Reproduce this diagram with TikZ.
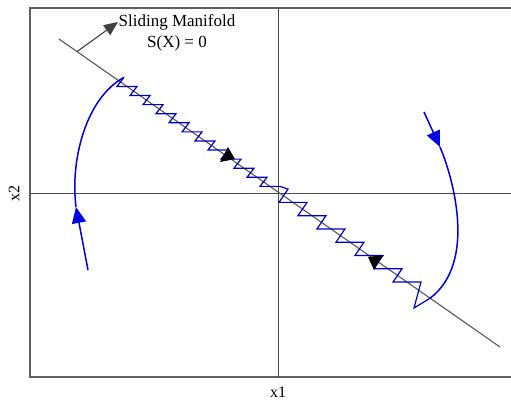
\documentclass[tikz,border=0pt]{standalone}
\usepackage{fontspec}
\setmainfont{Liberation Serif}
\usetikzlibrary{arrows.meta}

\begin{document}
\begin{tikzpicture}[x=1pt, y=-1pt,
        frame/.style = {draw=gray!75!black, line width=1.4pt},
        axis/.style  = {draw=gray!60!black, line width=0.9pt},
        manif/.style = {draw=black!65, line width=1.1pt},
        traj/.style  = {draw=blue!90!black, line width=1.5pt},
        zz/.style    = {draw=blue!80!black, line width=1.2pt},
        tarr/.style  = {-{Triangle[length=16pt, width=14pt]}},
        narr/.style  = {-{Triangle[length=14pt, width=12pt]}, draw=black!75, line width=1.1pt},
        lbl/.style   = {font=\fontsize{17}{21}\selectfont, inner sep=0pt, align=center},
    ]
        \useasboundingbox (0,0) rectangle (511,400);

        % ---- frame and axes ----
        \draw[frame] (511,8) -- (30,8) -- (30,377) -- (511,377);
        \draw[axis] (30,193) -- (511,193);
        \draw[axis] (278,8) -- (278,377);

        \node (x1) [lbl, font=\fontsize{16}{18}\selectfont] at (278,392) {x1};
        \node (x2) [lbl, font=\fontsize{16}{18}\selectfont, rotate=90] at (14,193) {x2};

        % ---- sliding manifold and its normal ----
        \coordinate (m0) at (59,39);
        \coordinate (m1) at (500,347);
        \coordinate (n0) at (77,51.6);
        \coordinate (n1) at (118,22);
        \draw[manif] (m0) -- (m1);
        \draw[narr] (n0) -- (n1);
        \node (lblS) [lbl] at (177,32.5) {Sliding Manifold\\S(X) = 0};

        % ---- left trajectory: reaching phase ----
        \coordinate (l0) at (88,270);
        \coordinate (l1) at (76,207);
        \coordinate (lc) at (124,77.4);
        \draw[traj, tarr] (l0) -- (l1);
        \draw[traj] (l1) .. controls (70,160) and (86,98) .. (lc);

        % ---- right trajectory: reaching phase ----
        \coordinate (r0) at (424,112);
        \coordinate (r1) at (440,147);
        \coordinate (rc) at (430,298.3);
        \draw[traj, tarr] (r0) -- (r1);
        \draw[traj] (r1) .. controls (452,175) and (478,262) .. (rc);

        % ---- chattering along S(X) = 0 ----
        \coordinate (zm) at (280,186.4);
        \draw[zz] (lc) \foreach \k in {1,...,12} { -- ++(-7,9.08) -- ++(20,0) };
        \draw[zz] (rc) -- (414,308) -- (421,282)
            \foreach \k in {1,...,7} { -- ++(-28,0) -- ++(9,-13.27) } -- (zm);

        % ---- direction marks on the manifold ----
        \fill[black] (220,162) -- (235,159) -- (228,147) -- cycle;
        \fill[black] (368,257) -- (383,255) -- (374,270) -- cycle;
    \end{tikzpicture}
\end{document}
